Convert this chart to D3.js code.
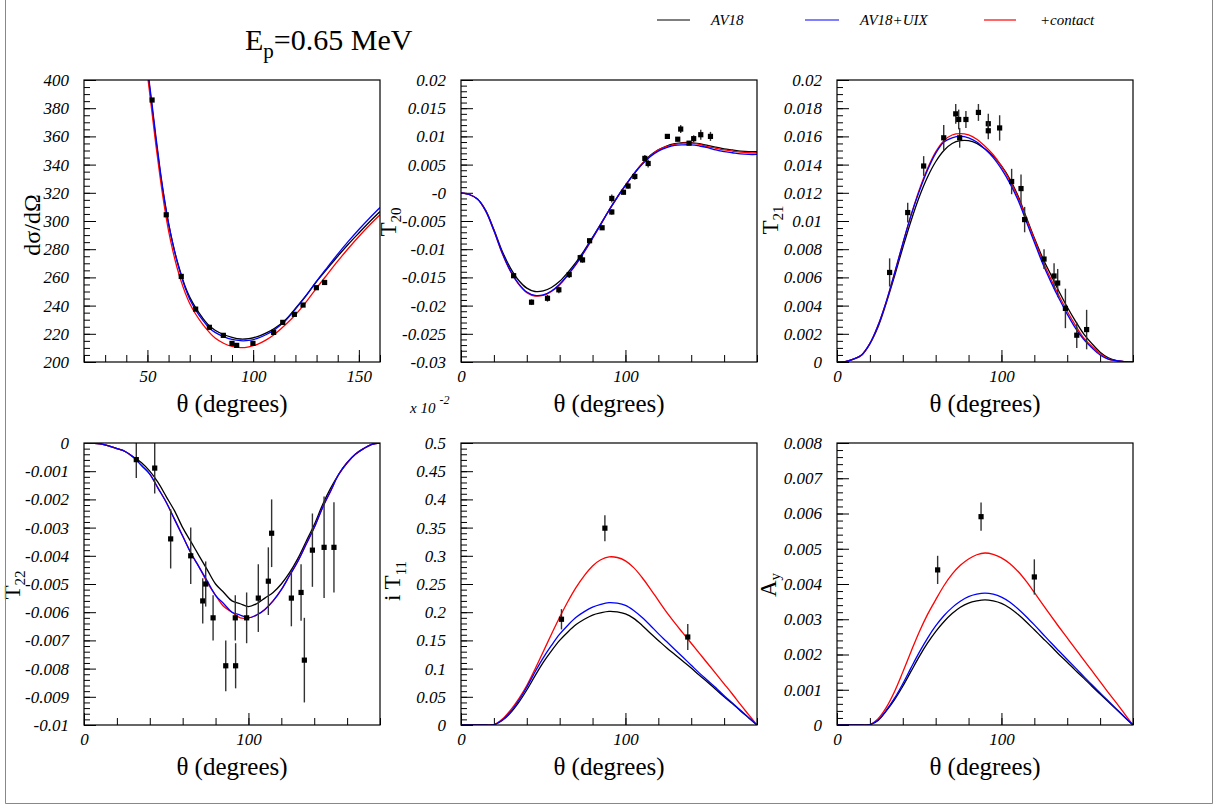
<!DOCTYPE html>
<html><head><meta charset="utf-8">
<script src="https://cdn.jsdelivr.net/npm/d3@7"></script>
<style>body{margin:0;background:#fff}svg{display:block}</style>
</head><body>
<svg id="c" width="1218" height="810"></svg>
<script>
// ---------- DATA ----------
const seriesNames = ["AV18", "AV18+UIX", "+contact"];

// cross section panel
const xsTheta   = [50,52,54,56,58,60,62,64,66,68,70,73,76,79,82,86,90,94,98,102,106,110,115,120,125,130,135,140,145,150,155,160];
const xsAV18    = [407,383,358,335,315,298,284,272,262,253,246,238,231.5,226,222.5,219.5,217.5,216.3,216.6,218,220.5,223.8,229.5,238,247,257,266,275,283.5,291.5,299.3,306.7];
const xsUIX     = [409,385,360,336.5,316,298.5,284,271.5,261,252,244.5,236.5,230,224.5,221,218,216,215.1,215.3,216.7,219.3,222.8,228.8,237.5,247,257.3,267,276.5,285.5,294,302,309.6];
const xsContact = [404,379,354,331,310.5,293,279,267,257,248.5,241.5,233.5,227,221.5,217,213.3,211,210.2,210.8,212.5,215.5,219.5,226,233.5,242.5,252.4,262,271.5,280.5,289,297,304.4];
const xsDataTheta = [52.2,58.9,66.0,72.8,79.3,85.9,90.0,92.2,99.9,109.7,114.0,119.5,123.6,129.9,133.8];
const xsDataValue = [385.8,304.4,260.7,237.5,224.6,218.9,213.2,211.8,213.2,221.0,228.1,233.8,240.4,252.7,256.4];
const xsDataError = [0,0,0,0,0,0,0,0,0,0,0,0,0,0,0];

// common angle grid for polarization observables
const polTheta = [0,5,10,15,20,25,30,35,40,45,50,55,60,65,70,75,80,85,90,95,100,105,110,115,120,125,130,135,140,145,150,155,160,165,170,175,180];

const t20AV18    = [0,-0.0003,-0.0011,-0.0031,-0.0065,-0.0103,-0.0133,-0.0155,-0.0169,-0.0175,-0.0174,-0.0168,-0.0157,-0.0141,-0.0123,-0.0102,-0.0079,-0.0055,-0.0031,-0.0008,0.0013,0.0033,0.0051,0.0066,0.0076,0.0083,0.0087,0.0089,0.0089,0.0087,0.0084,0.0081,0.0078,0.0076,0.0074,0.0073,0.0073];
const t20UIX     = [0,-0.0003,-0.0011,-0.0032,-0.0067,-0.0106,-0.0138,-0.0161,-0.0176,-0.0182,-0.0181,-0.0174,-0.0162,-0.0145,-0.0126,-0.0104,-0.0080,-0.0056,-0.0031,-0.0008,0.0013,0.0033,0.0050,0.0064,0.0074,0.0080,0.0084,0.0085,0.0085,0.0083,0.0080,0.0076,0.0073,0.0071,0.0069,0.0068,0.0068];
const t20Contact = [0,-0.0003,-0.0011,-0.0032,-0.0067,-0.0107,-0.0139,-0.0162,-0.0177,-0.0183,-0.0182,-0.0175,-0.0163,-0.0146,-0.0127,-0.0105,-0.0081,-0.0056,-0.0031,-0.0008,0.0013,0.0033,0.0051,0.0065,0.0076,0.0082,0.0086,0.0088,0.0088,0.0086,0.0082,0.0079,0.0076,0.0074,0.0072,0.0071,0.0071];
const t20DataTheta = [32.0,42.9,52.6,59.5,65.8,72.5,73.9,78.2,85.8,91.7,91.7,98.8,101.6,105.7,111.8,113.8,125.5,131.8,133.6,138.7,141.5,145.8,151.7];
const t20DataValue = [-0.0147,-0.0194,-0.0187,-0.0172,-0.0145,-0.0115,-0.0119,-0.0085,-0.0062,-0.0010,-0.0034,0.0001,0.0012,0.0029,0.0061,0.0052,0.0100,0.0095,0.0113,0.0088,0.0096,0.0103,0.0100];
const t20DataError = [0.0004,0.0005,0.0006,0.0006,0.0006,0.0005,0.0005,0.0004,0.0004,0.0007,0.0005,0.0004,0.0005,0.0006,0.0006,0.0007,0.0004,0.0004,0.0007,0.0003,0.0006,0.0009,0.0008];

const t21AV18    = [0,0.00002,0.0002,0.0005,0.0013,0.0025,0.0042,0.0061,0.0081,0.0100,0.0117,0.0131,0.0142,0.0150,0.0155,0.0157,0.0157,0.0155,0.0151,0.0146,0.0139,0.0130,0.0118,0.0103,0.0088,0.0074,0.0062,0.0050,0.0039,0.0029,0.0020,0.0013,0.0007,0.0003,0.0001,0.00002,0];
const t21UIX     = [0,0.00002,0.0002,0.0005,0.0013,0.0026,0.0043,0.0063,0.0084,0.0104,0.0121,0.0136,0.0148,0.0156,0.0159,0.0160,0.0159,0.0156,0.0151,0.0145,0.0137,0.0127,0.0115,0.0100,0.0085,0.0070,0.0057,0.0045,0.0034,0.0024,0.0016,0.0010,0.0005,0.0002,0.0001,0.00001,0];
const t21Contact = [0,0.00002,0.0002,0.0005,0.0013,0.0026,0.0043,0.0063,0.0084,0.0104,0.0122,0.0137,0.0149,0.0157,0.0161,0.0162,0.0161,0.0158,0.0153,0.0147,0.0139,0.0129,0.0117,0.0102,0.0087,0.0072,0.0059,0.0047,0.0036,0.0026,0.0017,0.0011,0.0006,0.0002,0.0001,0.00001,0];
const t21DataTheta = [32.0,43.0,52.7,64.9,72.2,74.0,74.6,78.4,86.0,92.0,92.0,98.9,106.2,111.9,114.1,125.9,132.0,134.2,138.9,145.8,151.8];
const t21DataValue = [0.00635,0.0106,0.0139,0.0159,0.0176,0.0172,0.0159,0.0172,0.0177,0.0169,0.0164,0.0166,0.0128,0.0123,0.0101,0.0073,0.0061,0.0056,0.0038,0.0019,0.0023];
const t21DataError = [0.0010,0.0007,0.0007,0.0009,0.0007,0.0007,0.0007,0.0006,0.0006,0.0007,0.0006,0.0009,0.0009,0.0010,0.0009,0.0007,0.0009,0.0010,0.0014,0.0009,0.0014];

const t22AV18    = [0,-0.00001,-0.00003,-0.0001,-0.0002,-0.0003,-0.0005,-0.0007,-0.0010,-0.0014,-0.0019,-0.0024,-0.0030,-0.0035,-0.0040,-0.0045,-0.0050,-0.0053,-0.0056,-0.0057,-0.0058,-0.0057,-0.0055,-0.0053,-0.0050,-0.0046,-0.0041,-0.0035,-0.0029,-0.0022,-0.0016,-0.0011,-0.0007,-0.0004,-0.0002,-0.00005,0];
const t22UIX     = [0,-0.00001,-0.00003,-0.0001,-0.0002,-0.0003,-0.0005,-0.0008,-0.0011,-0.0016,-0.0021,-0.0027,-0.0033,-0.0039,-0.0044,-0.0049,-0.0054,-0.0057,-0.0060,-0.0061,-0.0062,-0.0061,-0.0059,-0.0056,-0.0052,-0.0047,-0.0042,-0.0036,-0.0030,-0.0023,-0.0017,-0.0011,-0.0007,-0.0004,-0.0002,-0.00005,0];
const t22Contact = [0,-0.00001,-0.00003,-0.0001,-0.0002,-0.0003,-0.0005,-0.0008,-0.0011,-0.0016,-0.0021,-0.0027,-0.0033,-0.0039,-0.0044,-0.00495,-0.0054,-0.0058,-0.0060,-0.0062,-0.0062,-0.0061,-0.0059,-0.0056,-0.0052,-0.0047,-0.0042,-0.0036,-0.0030,-0.0023,-0.0017,-0.0011,-0.0007,-0.0004,-0.0002,-0.00005,0];
const t22DataTheta = [31.8,43.0,52.7,64.9,72.2,74.0,78.5,86.2,92.0,92.2,98.9,106.0,112.1,114.1,126.1,132.0,134.0,138.9,146.0,152.0];
const t22DataValue = [-0.00059,-0.00089,-0.0034,-0.0040,-0.0056,-0.0050,-0.0062,-0.0079,-0.0062,-0.0079,-0.0062,-0.0055,-0.0049,-0.0032,-0.0055,-0.0053,-0.0077,-0.0038,-0.0037,-0.0037];
const t22DataError = [0.00065,0.0009,0.00105,0.001,0.0008,0.0008,0.0008,0.0009,0.0008,0.0008,0.0009,0.0012,0.0012,0.0012,0.001,0.001,0.0015,0.0013,0.0018,0.0016];

// iT11 in units of 10^-2
const it11AV18    = [0,0,0,0,0.0005,0.008,0.021,0.0395,0.062,0.087,0.111,0.1315,0.150,0.165,0.178,0.1875,0.195,0.199,0.2015,0.2005,0.197,0.189,0.177,0.163,0.150,0.137,0.125,0.113,0.101,0.088,0.076,0.063,0.050,0.038,0.025,0.0125,0];
const it11UIX     = [0,0,0,0,0.0005,0.0085,0.023,0.043,0.067,0.094,0.119,0.141,0.161,0.177,0.191,0.201,0.209,0.214,0.217,0.216,0.212,0.203,0.191,0.177,0.162,0.148,0.134,0.120,0.106,0.092,0.079,0.066,0.052,0.039,0.026,0.013,0];
const it11Contact = [0,0,0,0,0.0005,0.010,0.026,0.046,0.070,0.099,0.130,0.161,0.191,0.219,0.244,0.265,0.282,0.293,0.298,0.297,0.291,0.279,0.262,0.242,0.221,0.200,0.181,0.163,0.145,0.127,0.109,0.091,0.073,0.055,0.036,0.018,0];
const it11DataTheta = [61.1,87.5,137.9];
const it11DataValue = [0.1875,0.349,0.156];
const it11DataError = [0.018,0.023,0.023];

const ayAV18    = [0,0,0,0,0.00001,0.00013,0.0004,0.00072,0.0011,0.00152,0.00194,0.00232,0.00265,0.00293,0.00316,0.00334,0.00346,0.00352,0.00355,0.00352,0.00345,0.00332,0.00314,0.00293,0.0027,0.00247,0.00224,0.002,0.00178,0.00155,0.00133,0.0011,0.00088,0.00066,0.00044,0.00022,0];
const ayUIX     = [0,0,0,0,0.00001,0.00014,0.00042,0.00076,0.00117,0.00162,0.00206,0.00246,0.00281,0.0031,0.00333,0.00351,0.00364,0.00371,0.00374,0.00371,0.00363,0.00349,0.0033,0.00308,0.00284,0.00259,0.00234,0.0021,0.00186,0.00162,0.00138,0.00114,0.00091,0.00068,0.00045,0.00022,0];
const ayContact = [0,0,0,0,0.00001,0.00018,0.0005,0.00095,0.0015,0.00208,0.00264,0.00313,0.00355,0.00395,0.00428,0.00453,0.00471,0.00483,0.00488,0.00484,0.00474,0.00458,0.00436,0.00408,0.00376,0.00343,0.0031,0.00278,0.00247,0.00216,0.00185,0.00154,0.00123,0.00092,0.00062,0.00031,0];
const ayDataTheta = [61.2,87.6,120.0];
const ayDataValue = [0.0044,0.00591,0.0042];
const ayDataError = [0.0004,0.0004,0.0005];

// tick values & labels
const xsYTicks  = [200,220,240,260,280,300,320,340,360,380,400];
const xsYLabels = ["200","220","240","260","280","300","320","340","360","380","400"];
const xsXTicks  = [50,100,150];
const xsXLabels = ["50","100","150"];
const polXTicks  = [0,100];
const polXLabels = ["0","100"];
const t20YTicks  = [-0.03,-0.025,-0.02,-0.015,-0.01,-0.005,0,0.005,0.01,0.015,0.02];
const t20YLabels = ["-0.03","-0.025","-0.02","-0.015","-0.01","-0.005","-0","0.005","0.01","0.015","0.02"];
const t21YTicks  = [0,0.002,0.004,0.006,0.008,0.01,0.012,0.014,0.016,0.018,0.02];
const t21YLabels = ["0","0.002","0.004","0.006","0.008","0.01","0.012","0.014","0.016","0.018","0.02"];
const t22YTicks  = [-0.01,-0.009,-0.008,-0.007,-0.006,-0.005,-0.004,-0.003,-0.002,-0.001,0];
const t22YLabels = ["-0.01","-0.009","-0.008","-0.007","-0.006","-0.005","-0.004","-0.003","-0.002","-0.001","0"];
const it11YTicks  = [0,0.05,0.1,0.15,0.2,0.25,0.3,0.35,0.4,0.45,0.5];
const it11YLabels = ["0","0.05","0.1","0.15","0.2","0.25","0.3","0.35","0.4","0.45","0.5"];
const ayYTicks  = [0,0.001,0.002,0.003,0.004,0.005,0.006,0.007,0.008];
const ayYLabels = ["0","0.001","0.002","0.003","0.004","0.005","0.006","0.007","0.008"];

// ---------- DRAWING ----------
const svg = d3.select('#c');
const F = "'Liberation Serif','Times New Roman',Times,serif";
const colors = ["#000000", "#0000ff", "#ff0000"];

function steps(a, b, s) { const out = []; const n = Math.round((b - a) / s); for (let i = 0; i <= n; i++) out.push(a + i * s); return out; }

const panels = [
  {id:1, x0:84, x1:380, y0:80, y1:362, xd:[20,160], yd:[200,400], xT:xsXTicks, xL:xsXLabels, xMinor:10, yT:xsYTicks, yL:xsYLabels, yMinor:5,
   th:xsTheta, series:[xsAV18,xsUIX,xsContact], dt:xsDataTheta, dv:xsDataValue, de:xsDataError},
  {id:2, x0:461, x1:757, y0:80, y1:362, xd:[0,180], yd:[-0.03,0.02], xT:polXTicks, xL:polXLabels, xMinor:20, yT:t20YTicks, yL:t20YLabels, yMinor:0.001,
   th:polTheta, series:[t20AV18,t20UIX,t20Contact], dt:t20DataTheta, dv:t20DataValue, de:t20DataError},
  {id:3, x0:837, x1:1133, y0:80, y1:362, xd:[0,180], yd:[0,0.02], xT:polXTicks, xL:polXLabels, xMinor:20, yT:t21YTicks, yL:t21YLabels, yMinor:0.0005,
   th:polTheta, series:[t21AV18,t21UIX,t21Contact], dt:t21DataTheta, dv:t21DataValue, de:t21DataError},
  {id:4, x0:84, x1:380, y0:443, y1:725, xd:[0,180], yd:[-0.01,0], xT:polXTicks, xL:polXLabels, xMinor:20, yT:t22YTicks, yL:t22YLabels, yMinor:0.0002,
   th:polTheta, series:[t22AV18,t22UIX,t22Contact], dt:t22DataTheta, dv:t22DataValue, de:t22DataError},
  {id:5, x0:461, x1:757, y0:443, y1:725, xd:[0,180], yd:[0,0.5], xT:polXTicks, xL:polXLabels, xMinor:20, yT:it11YTicks, yL:it11YLabels, yMinor:0.01,
   th:polTheta, series:[it11AV18,it11UIX,it11Contact], dt:it11DataTheta, dv:it11DataValue, de:it11DataError},
  {id:6, x0:837, x1:1133, y0:443, y1:725, xd:[0,180], yd:[0,0.008], xT:polXTicks, xL:polXLabels, xMinor:20, yT:ayYTicks, yL:ayYLabels, yMinor:0.0002,
   th:polTheta, series:[ayAV18,ayUIX,ayContact], dt:ayDataTheta, dv:ayDataValue, de:ayDataError}
];

const defs = svg.append('defs');

function styleAxis(sel) {
  sel.select('.domain').remove();
  sel.selectAll('.tick line').attr('stroke', '#000').attr('stroke-width', 1);
  sel.selectAll('text').attr('font-family', F).attr('font-size', 17).attr('font-style', 'italic').attr('fill', '#000');
}

panels.forEach(p => {
  const x = d3.scaleLinear().domain(p.xd).range([p.x0, p.x1]);
  const y = d3.scaleLinear().domain(p.yd).range([p.y1, p.y0]);
  const g = svg.append('g');
  defs.append('clipPath').attr('id', 'clip' + p.id).append('rect')
    .attr('x', p.x0).attr('y', p.y0).attr('width', p.x1 - p.x0).attr('height', p.y1 - p.y0);

  g.append('g').attr('transform', `translate(${p.x0},0)`)
    .call(d3.axisLeft(y).tickValues(steps(p.yd[0], p.yd[1], p.yMinor)).tickSize(-6).tickFormat(''))
    .call(styleAxis);
  g.append('g').attr('transform', `translate(${p.x0},0)`)
    .call(d3.axisLeft(y).tickValues(p.yT).tickSize(-12).tickPadding(15).tickFormat((d, i) => p.yL[i]))
    .call(styleAxis);
  g.append('g').attr('transform', `translate(0,${p.y1})`)
    .call(d3.axisBottom(x).tickValues(steps(p.xd[0], p.xd[1], p.xMinor)).tickSize(-7).tickFormat(''))
    .call(styleAxis);
  g.append('g').attr('transform', `translate(0,${p.y1})`)
    .call(d3.axisBottom(x).tickValues(p.xT).tickSize(-12).tickPadding(8).tickFormat((d, i) => p.xL[i]))
    .call(styleAxis);

  const cg = g.append('g').attr('clip-path', `url(#clip${p.id})`);
  const line = d3.line().x(d => x(d[0])).y(d => y(d[1])).curve(d3.curveCatmullRom.alpha(0.5));
  [0, 2, 1].forEach(si => {
    const pts = p.th.map((t, i) => [t, p.series[si][i]]);
    cg.append('path').attr('d', line(pts)).attr('fill', 'none')
      .attr('stroke', colors[si]).attr('stroke-width', 1.3);
  });

  const dg = g.append('g').attr('clip-path', `url(#clip${p.id})`);
  p.dt.forEach((t, i) => {
    const v = p.dv[i], e = p.de[i];
    if (e > 0) {
      dg.append('line').attr('x1', x(t)).attr('x2', x(t)).attr('y1', y(v - e)).attr('y2', y(v + e))
        .attr('stroke', '#333').attr('stroke-width', 1.4);
    }
    dg.append('rect').attr('x', x(t) - 2.6).attr('y', y(v) - 2.6).attr('width', 5.2).attr('height', 5.2).attr('fill', '#000');
  });

  g.append('rect').attr('x', p.x0).attr('y', p.y0).attr('width', p.x1 - p.x0).attr('height', p.y1 - p.y0)
    .attr('fill', 'none').attr('stroke', '#000').attr('stroke-width', 1.2);

  g.append('text').attr('x', (p.x0 + p.x1) / 2).attr('y', p.y1 + 50).attr('text-anchor', 'middle')
    .attr('font-family', F).attr('font-size', 25).text('θ (degrees)');
});

function yTitle(xb, yc, main, sub, subDy, size) {
  const t = svg.append('text').attr('transform', `translate(${xb},${yc}) rotate(-90)`)
    .attr('text-anchor', 'middle').attr('font-family', F).attr('font-size', size || 23);
  t.append('tspan').text(main);
  if (sub) t.append('tspan').attr('font-size', 15).attr('dy', subDy).text(sub);
}
yTitle(40, 225, 'dσ/dΩ', null, 0, 24);
yTitle(396, 222, 'T', '20', 5);
yTitle(778, 220, 'T', '21', 5);
yTitle(20, 585, 'T', '22', 5);
yTitle(400, 581, 'i T', '11', 6);
yTitle(776, 585, 'A', 'y', 4);

const ex = svg.append('text').attr('x', 410).attr('y', 413).attr('font-family', F).attr('font-style', 'italic').attr('font-size', 15);
ex.append('tspan').text('x 10');
ex.append('tspan').attr('dy', -9).attr('dx', 4).attr('font-size', 12).text('-2');

const tt = svg.append('text').attr('x', 245).attr('y', 50).attr('font-family', F).attr('font-size', 30);
tt.append('tspan').text('E');
tt.append('tspan').attr('font-size', 21).attr('dy', 8).text('p');
tt.append('tspan').attr('dy', -8).text('=0.65 MeV');

const legX = [[657, 690, 711], [805, 839, 860], [984, 1016, 1040]];
seriesNames.forEach((n, i) => {
  svg.append('line').attr('x1', legX[i][0]).attr('x2', legX[i][1]).attr('y1', 20).attr('y2', 20)
    .attr('stroke', colors[i]).attr('stroke-width', 1.2);
  svg.append('text').attr('x', legX[i][2]).attr('y', 25).attr('font-family', F).attr('font-style', 'italic')
    .attr('font-size', 15).text(n);
});

svg.append('path').attr('d', 'M5.5,0 V803.5 H1212.5 V0').attr('fill', 'none').attr('stroke', '#888').attr('stroke-width', 1);
</script>
</body></html>
